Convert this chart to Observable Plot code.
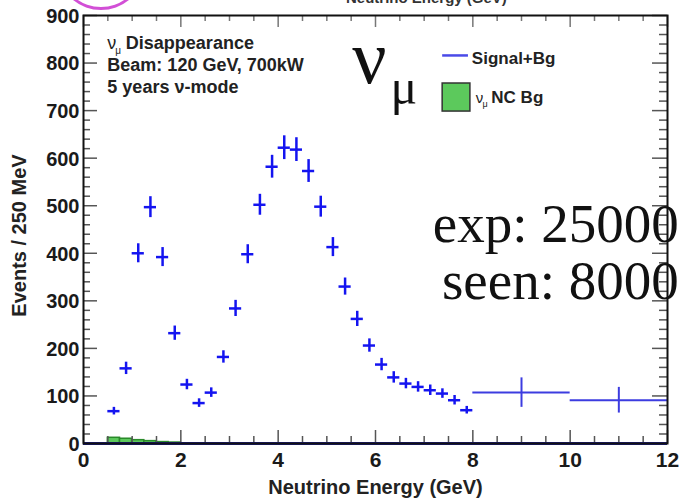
<!DOCTYPE html>
<html><head><meta charset="utf-8">
<script src="https://cdn.jsdelivr.net/npm/d3@7"></script>
<script src="https://cdn.jsdelivr.net/npm/@observablehq/plot@0.6"></script>
<style>
html,body{margin:0;padding:0;background:#fff;overflow:hidden;}
#wrap{position:relative;width:687px;height:503px;overflow:hidden;}
#arc{position:absolute;left:62px;top:-56px;width:72px;height:60px;border:3px solid #d24fd6;border-radius:50%;}
#cut{position:absolute;left:346px;top:-11px;font:bold 15px "Liberation Sans",Arial,sans-serif;color:#333;}
</style></head><body><div id="wrap"><div id="arc"></div><div id="cut">Neutrino Energy (GeV)</div></div>
<script>
// Signal+Bg histogram (events per 250 MeV)
const binEdges = [0.5,0.75,1,1.25,1.5,1.75,2,2.25,2.5,2.75,3,3.25,3.5,3.75,4,4.25,4.5,4.75,5,5.25,5.5,5.75,6,6.25,6.5,6.75,7,7.25,7.5,7.75,8,10,12];
const events = [68,158,400,497,392,232,124,85,107,182,284,398,502,582,622,618,573,498,413,330,262,206,166,139,126,119,112,105,91,70,107,91];
const errors = [8,13,20,22,20,15,11,9,10,13,17,20,22,24,25,25,24,22,20,18,16,14,13,12,11,11,11,10,10,8,31,27];
// nu_mu NC background
const ncEdges = [0.5,0.75,1,1.25,1.5,1.75,2];
const ncEvents = [12,10,7,5,3,2];
// axes
const xTicks = [0,2,4,6,8,10,12];
const yTicks = [0,100,200,300,400,500,600,700,800,900];
// text annotations (data units)
const infoLines = [
  {x:0.87, y:830, t:"Disappearance"},
  {x:0.49, y:784, t:"Beam: 120 GeV, 700kW"},
  {x:0.49, y:736, t:"5 years ν-mode"}
];
const bigLabel = [{x:5.52, y:759, t:"ν", s:76}, {x:6.31, y:713, t:"μ", s:50}];
const counts = [{x:12.23, y:424, t:"exp: 25000"}, {x:12.23, y:304, t:"seen: 8000"}];

const bins = events.map((v,i)=>({lo:binEdges[i], hi:binEdges[i+1], v, e:errors[i]}));
const narrow = bins.filter(d=>d.hi-d.lo < 0.5);
const wide = bins.filter(d=>d.hi-d.lo >= 0.5);
const nc = ncEvents.map((v,i)=>({lo:ncEdges[i], hi:ncEdges[i+1], v}));

const SANS = "Liberation Sans, Arial, sans-serif";
const SERIF = "Liberation Serif, Times New Roman, serif";
const W = 687, H = 503, mL = 83, mR = 20, mT = 15, mB = 60;
const fw = W - mL - mR, fh = H - mT - mB;
const xMinor = d3.range(0, 12.001, 0.5);
const yMinor = d3.range(0, 900.001, 20);
const isMajX = d => Math.abs(d/2 - Math.round(d/2)) < 1e-6;
const isMajY = d => d % 100 === 0;

const plot = Plot.plot({
  width: W, height: H,
  marginLeft: mL, marginRight: mR, marginTop: mT, marginBottom: mB,
  x: {domain:[0,12], axis:null},
  y: {domain:[0,900], axis:null},
  style: {background:"#fff", overflow:"visible"},
  marks: [
    // NC background
    Plot.rect(nc, {x1:"lo", x2:"hi", y1:0, y2:"v", fill:"#5cc95c", stroke:"#2a8a2a", strokeWidth:1.5}),
    // ticks (inside frame)
    Plot.tickX(xMinor.filter(d=>!isMajX(d)), {x:d=>d, insetTop: fh-7, stroke:"#555", strokeWidth:1.5}),
    Plot.tickX(xMinor.filter(isMajX), {x:d=>d, insetTop: fh-13, stroke:"#555", strokeWidth:1.5}),
    Plot.tickX(xMinor.filter(d=>!isMajX(d)), {x:d=>d, insetBottom: fh-6, stroke:"#777", strokeWidth:1.5}),
    Plot.tickX(xMinor.filter(isMajX), {x:d=>d, insetBottom: fh-12, stroke:"#777", strokeWidth:1.5}),
    Plot.tickY(yMinor.filter(d=>!isMajY(d)), {y:d=>d, insetRight: fw-7, stroke:"#555", strokeWidth:1.5}),
    Plot.tickY(yMinor.filter(isMajY), {y:d=>d, insetRight: fw-14, stroke:"#555", strokeWidth:1.5}),
    Plot.tickY(yMinor.filter(d=>!isMajY(d)), {y:d=>d, insetLeft: fw-8, stroke:"#555", strokeWidth:1.5}),
    Plot.tickY(yMinor.filter(isMajY), {y:d=>d, insetLeft: fw-15, stroke:"#555", strokeWidth:1.5}),
    // zero line
    Plot.ruleY([0], {stroke:"#1a1a8c", strokeWidth:3}),
    // Signal+Bg crosses
    Plot.ruleY(narrow, {x1:"lo", x2:"hi", y:"v", stroke:"#1414f0", strokeWidth:2.5}),
    Plot.ruleX(narrow, {x:d=>(d.lo+d.hi)/2, y1:d=>d.v-d.e, y2:d=>d.v+d.e, stroke:"#1414f0", strokeWidth:2.5}),
    Plot.ruleY(wide, {x1:"lo", x2:"hi", y:"v", stroke:"#3c3ce0", strokeWidth:2}),
    Plot.ruleX(wide, {x:d=>(d.lo+d.hi)/2, y1:d=>d.v-d.e, y2:d=>d.v+d.e, stroke:"#3c3ce0", strokeWidth:2}),
    // frame
    Plot.frame({stroke:"#111", strokeWidth:2}),
    // tick labels
    Plot.text(xTicks, {x:d=>d, text:d=>String(d), frameAnchor:"bottom", textAnchor:"middle", dy:23, fontSize:21, fontWeight:"bold", fontFamily:SANS, fill:"#1a1a1a"}),
    Plot.text(yTicks, {y:d=>d, text:d=>String(d), frameAnchor:"left", textAnchor:"end", dx:-4, dy:1, fontSize:20, fontWeight:"bold", fontFamily:SANS, fill:"#1a1a1a"}),
    // axis titles
    Plot.text(["Neutrino Energy (GeV)"], {text:d=>d, frameAnchor:"bottom", textAnchor:"middle", dy:50, fontSize:20, fontWeight:"bold", fontFamily:SANS, fill:"#222"}),
    Plot.text(["Events / 250 MeV"], {text:d=>d, frameAnchor:"left", textAnchor:"middle", rotate:-90, dx:-64, dy:6, fontSize:20, fontWeight:"bold", fontFamily:SANS, fill:"#222"}),
    // info text
    Plot.text([{x:0.49, y:830}], {x:"x", y:"y", text:d=>"ν", textAnchor:"start", lineAnchor:"bottom", fontSize:18, fontFamily:SANS, fill:"#222"}),
    Plot.text([{x:0.65, y:820}], {x:"x", y:"y", text:d=>"μ", textAnchor:"start", lineAnchor:"bottom", fontSize:10, fontFamily:SANS, fill:"#222"}),
    Plot.text(infoLines, {x:"x", y:"y", text:"t", textAnchor:"start", lineAnchor:"bottom", fontSize:18, fontWeight:"bold", fontFamily:SANS, fill:"#222"}),
    // big nu_mu
    Plot.text(bigLabel, {x:"x", y:"y", text:"t", fontSize:d=>d.s, textAnchor:"start", lineAnchor:"bottom", fontFamily:SERIF, fill:"#111"}),
    // legend
    Plot.ruleY([{x1:7.38, x2:7.91, y:816}], {x1:"x1", x2:"x2", y:"y", stroke:"#4a4ae8", strokeWidth:2.5}),
    Plot.text([{x:7.98, y:799}], {x:"x", y:"y", text:d=>"Signal+Bg", textAnchor:"start", lineAnchor:"bottom", fontSize:17, fontWeight:"bold", fontFamily:SANS, fill:"#222"}),
    Plot.rect([{x1:7.38, x2:7.95, y1:698, y2:757}], {x1:"x1", x2:"x2", y1:"y1", y2:"y2", fill:"#5cc95c", stroke:"#333", strokeWidth:1.5}),
    Plot.text([{x:8.06, y:715}], {x:"x", y:"y", text:d=>"ν", textAnchor:"start", lineAnchor:"bottom", fontSize:15, fontFamily:SANS, fill:"#222"}),
    Plot.text([{x:8.20, y:707}], {x:"x", y:"y", text:d=>"μ", textAnchor:"start", lineAnchor:"bottom", fontSize:9, fontFamily:SANS, fill:"#222"}),
    Plot.text([{x:8.38, y:715}], {x:"x", y:"y", text:d=>"NC Bg", textAnchor:"start", lineAnchor:"bottom", fontSize:17, fontWeight:"bold", fontFamily:SANS, fill:"#222"}),
    // exp / seen
    Plot.text(counts, {x:"x", y:"y", text:"t", textAnchor:"end", lineAnchor:"bottom", fontSize:55, fontFamily:SERIF, fill:"#111"})
  ]
});
document.getElementById("wrap").prepend(plot);
</script>
</body></html>
